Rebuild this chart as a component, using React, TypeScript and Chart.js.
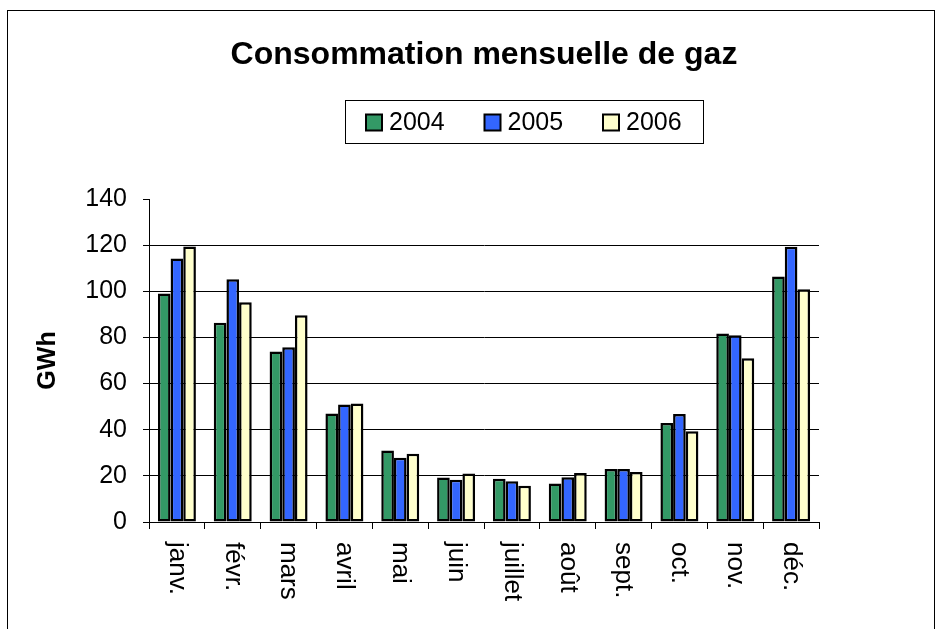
import React, { useEffect, useRef } from 'react';
import { Chart, registerables } from 'chart.js';

Chart.register(...registerables);

const FONT = '"Liberation Sans", Arial, Helvetica, sans-serif';

const months = ['janv.', 'févr.', 'mars', 'avril', 'mai', 'juin', 'juillet', 'août', 'sept.', 'oct.', 'nov.', 'déc.'];
const seriesLabels = ['2004', '2005', '2006'];
const values2004 = [99, 86.4, 73.9, 47, 31, 19.3, 18.7, 16.7, 23, 42.9, 81.7, 106.4];
const values2005 = [114.2, 105.2, 75.7, 50.9, 27.8, 18.3, 17.7, 19.4, 23, 46.8, 80.9, 119.3];
const values2006 = [119.4, 95.3, 89.6, 51.4, 29.6, 21, 15.7, 21.2, 21.7, 39.3, 71, 100.9];
const yMin = 0;
const yMax = 140;
const yStep = 20;

const seriesColors = ['#339966', '#3366FF', '#FFFFCC'];

const W = 938;
const H = 629;

const frame = {
  id: 'frame',
  beforeDraw(chart: any) {
    const ctx = chart.ctx;
    ctx.save();
    ctx.fillStyle = '#fff';
    ctx.fillRect(0, 0, W, H);
    ctx.strokeStyle = '#000';
    ctx.lineWidth = 1;
    ctx.strokeRect(7.5, 10.5, 927, 700);
    ctx.restore();
  },
};

const rotatedXLabels = {
  id: 'rotatedXLabels',
  afterDraw(chart: any) {
    const scale = chart.scales.x;
    const ctx = chart.ctx;
    ctx.save();
    ctx.font = `26px ${FONT}`;
    ctx.fillStyle = '#000';
    ctx.textAlign = 'left';
    ctx.textBaseline = 'middle';
    (chart.data.labels as string[]).forEach((label, i) => {
      const x = scale.getPixelForTick(i);
      ctx.save();
      ctx.translate(x, scale.top + 20);
      ctx.rotate(Math.PI / 2);
      ctx.fillText(label, 0, 0);
      ctx.restore();
    });
    ctx.restore();
  },
};

const boxedLegend = {
  id: 'boxedLegend',
  afterDraw(chart: any) {
    const { ctx, chartArea } = chart;
    const left = chartArea.left + 196;
    const top = chartArea.top - 99;
    const w = 358;
    const h = 43;
    ctx.save();
    ctx.strokeStyle = '#000';
    ctx.lineWidth = 1;
    ctx.strokeRect(left + 0.5, top + 0.5, w, h);
    ctx.font = `25px ${FONT}`;
    ctx.textBaseline = 'middle';
    ctx.textAlign = 'left';
    chart.data.datasets.forEach((ds: any, i: number) => {
      const sx = left + 21 + i * 118.5;
      const cy = top + h / 2 + 1;
      ctx.fillStyle = ds.backgroundColor;
      ctx.fillRect(sx, cy - 8, 16, 16);
      ctx.lineWidth = 2;
      ctx.strokeStyle = '#000';
      ctx.strokeRect(sx, cy - 8, 16, 16);
      ctx.fillStyle = '#000';
      ctx.fillText(ds.label, sx + 23, cy + 1);
    });
    ctx.restore();
  },
};

export default function App() {
  const canvasRef = useRef<HTMLCanvasElement | null>(null);

  useEffect(() => {
    document.body.style.overflow = 'hidden';
    const canvas = canvasRef.current;
    if (!canvas) return;
    const data = [values2004, values2005, values2006];
    const chart = new Chart(canvas, {
      type: 'bar',
      data: {
        labels: months,
        datasets: seriesLabels.map((label, i) => ({
          label,
          data: data[i],
          backgroundColor: seriesColors[i],
          borderColor: '#000',
          borderWidth: 2.5,
          borderSkipped: false,
          categoryPercentage: 0.68,
          barPercentage: 1,
        })),
      },
      options: {
        responsive: false,
        animation: false,
        devicePixelRatio: 1,
        layout: { padding: { left: 31, right: 119, top: 0, bottom: 0 } },
        plugins: {
          legend: { display: false },
          tooltip: { enabled: false },
          title: {
            display: true,
            text: 'Consommation mensuelle de gaz',
            color: '#000',
            fullSize: false,
            font: { family: FONT, size: 32, weight: 'bold' },
            padding: { top: 36, bottom: 124.6 },
          },
        },
        scales: {
          x: {
            grid: {
              display: true,
              drawOnChartArea: false,
              drawTicks: true,
              tickLength: 7,
              color: '#000',
              offset: true,
            },
            border: { color: '#000', width: 1 },
            ticks: { display: false },
            afterFit: (scale: any) => {
              scale.height = 107;
            },
          },
          y: {
            min: yMin,
            max: yMax,
            ticks: {
              stepSize: yStep,
              color: '#000',
              padding: 16,
              font: { family: FONT, size: 25 },
            },
            grid: {
              color: (ctx: any) => (ctx.tick && ctx.tick.value === yMax ? 'rgba(0,0,0,0)' : '#000'),
              tickColor: '#000',
              tickLength: 6,
              lineWidth: 1,
            },
            border: { color: '#000', width: 1 },
            title: {
              display: true,
              text: 'GWh',
              color: '#000',
              font: { family: FONT, size: 25, weight: 'bold' },
              padding: { top: 2, bottom: 4 },
            },
            afterFit: (scale: any) => {
              scale.width = 118;
            },
          },
        },
      },
      plugins: [frame, rotatedXLabels, boxedLegend],
    });
    return () => chart.destroy();
  }, []);

  return (
    <div style={{ position: 'fixed', left: 0, top: 0, width: W, height: H }}>
      <canvas ref={canvasRef} width={W} height={H} style={{ display: 'block' }} />
    </div>
  );
}
